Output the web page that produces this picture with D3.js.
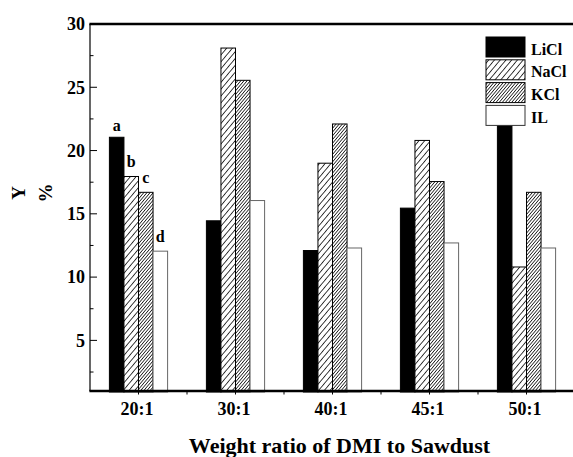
<!DOCTYPE html>
<html>
<head>
<meta charset="utf-8">
<script src="https://cdn.jsdelivr.net/npm/d3@7"></script>
<style>
  html, body { margin: 0; padding: 0; background: #fff; }
  svg { display: block; font-family: "Liberation Serif", "Times New Roman", serif; font-weight: bold; }
</style>
</head>
<body>
<div id="chart"></div>
<script>
// Grouped bar chart: yield Y (%) by weight ratio of DMI to sawdust, per salt

const width = 573;
const height = 457;
const margin = { top: 24, right: -2, bottom: 66, left: 90 };

// Data
const categories = ['20:1', '30:1', '40:1', '45:1', '50:1'];
const seriesNames = ['LiCl', 'NaCl', 'KCl', 'IL'];
const liclValues = [21.05, 14.45, 12.1, 15.45, 23.0];
const naclValues = [17.95, 28.1, 19.0, 20.8, 10.8];
const kclValues = [16.7, 25.55, 22.1, 17.55, 16.7];
const ilValues = [12.05, 16.05, 12.3, 12.7, 12.3];
const yTicks = [5, 10, 15, 20, 25, 30];
const yMinorTicks = [2.5, 7.5, 12.5, 17.5, 22.5, 27.5];
const firstGroupLetters = ['a', 'b', 'c', 'd'];

const seriesValues = [liclValues, naclValues, kclValues, ilValues];

const svg = d3.select('#chart')
    .append('svg')
    .attr('width', width)
    .attr('height', height);

// hatch patterns
const defs = svg.append('defs');
function hatch(id, gap) {
    const p = defs.append('pattern')
        .attr('id', id)
        .attr('patternUnits', 'userSpaceOnUse')
        .attr('width', gap)
        .attr('height', 10)
        .attr('patternTransform', 'rotate(40)');
    p.append('rect').attr('width', gap).attr('height', 10).attr('fill', '#fff');
    p.append('line')
        .attr('x1', gap / 2).attr('x2', gap / 2)
        .attr('y1', 0).attr('y2', 10)
        .attr('stroke', '#000')
        .attr('stroke-width', 0.8);
}
hatch('hatchNa', 4.4);
hatch('hatchK', 2.4);

const fills = { LiCl: '#000', NaCl: 'url(#hatchNa)', KCl: 'url(#hatchK)', IL: '#fff' };
const strokes = { LiCl: '#000', NaCl: '#000', KCl: '#000', IL: '#666' };

const plotRight = width - margin.right;
const plotBottom = height - margin.bottom;

const x = d3.scaleBand()
    .domain(categories)
    .range([margin.left, plotRight])
    .paddingInner(0.4)
    .paddingOuter(0.2);

const xSub = d3.scaleBand()
    .domain(seriesNames)
    .range([0, x.bandwidth()]);

const y = d3.scaleLinear()
    .domain([1, 30])
    .range([plotBottom, margin.top]);

// bars
const rows = [];
categories.forEach((c, i) => {
    seriesNames.forEach((s, j) => {
        rows.push({ cat: c, series: s, value: seriesValues[j][i] });
    });
});

svg.append('g')
    .selectAll('rect')
    .data(rows)
    .enter()
    .append('rect')
    .attr('x', d => x(d.cat) + xSub(d.series))
    .attr('y', d => y(d.value))
    .attr('width', xSub.bandwidth())
    .attr('height', d => plotBottom - y(d.value) + 1)
    .attr('fill', d => fills[d.series])
    .attr('stroke', d => strokes[d.series])
    .attr('stroke-width', 1);

// letters above the first group
svg.append('g')
    .selectAll('text')
    .data(firstGroupLetters)
    .enter()
    .append('text')
    .attr('x', (d, j) => x(categories[0]) + xSub(seriesNames[j]) + xSub.bandwidth() / 2)
    .attr('y', (d, j) => y(seriesValues[j][0]) - (j === 0 ? 6 : 9))
    .attr('text-anchor', 'middle')
    .attr('font-size', '16px')
    .text(d => d);

// axes frame
const frame = svg.append('g').attr('stroke', '#000').attr('fill', 'none');
frame.append('line')
    .attr('x1', margin.left).attr('x2', margin.left)
    .attr('y1', margin.top).attr('y2', plotBottom)
    .attr('stroke-width', 1.2);
frame.append('line')
    .attr('x1', margin.left - 0.6).attr('x2', plotRight)
    .attr('y1', margin.top).attr('y2', margin.top)
    .attr('stroke-width', 2.4);
frame.append('line')
    .attr('x1', margin.left - 0.6).attr('x2', plotRight)
    .attr('y1', plotBottom).attr('y2', plotBottom)
    .attr('stroke-width', 2.4);

// y ticks (inward)
const yAxis = svg.append('g');
yAxis.selectAll('line.major')
    .data(yTicks)
    .enter()
    .append('line')
    .attr('class', 'major')
    .attr('x1', margin.left).attr('x2', margin.left + 7)
    .attr('y1', d => y(d)).attr('y2', d => y(d))
    .attr('stroke', '#000').attr('stroke-width', 1);
yAxis.selectAll('line.minor')
    .data(yMinorTicks)
    .enter()
    .append('line')
    .attr('class', 'minor')
    .attr('x1', margin.left).attr('x2', margin.left + 3.5)
    .attr('y1', d => y(d)).attr('y2', d => y(d))
    .attr('stroke', '#000').attr('stroke-width', 1);
yAxis.selectAll('text')
    .data(yTicks)
    .enter()
    .append('text')
    .attr('x', margin.left - 5)
    .attr('y', d => y(d))
    .attr('dy', '0.35em')
    .attr('text-anchor', 'end')
    .attr('font-size', '18px')
    .text(d => d);

// x ticks (small, outward) at centres and between groups
const step = x.step();
const xTickPos = [];
categories.forEach(c => {
    const cx = x(c) + x.bandwidth() / 2;
    xTickPos.push(cx);
    xTickPos.push(cx + step / 2);
});
svg.append('g')
    .selectAll('line')
    .data(xTickPos)
    .enter()
    .append('line')
    .attr('x1', d => d).attr('x2', d => d)
    .attr('y1', plotBottom).attr('y2', plotBottom + 3.5)
    .attr('stroke', '#000').attr('stroke-width', 1);

svg.append('g')
    .selectAll('text')
    .data(categories)
    .enter()
    .append('text')
    .attr('x', d => x(d) + x.bandwidth() / 2 - 1.5)
    .attr('y', plotBottom + 24)
    .attr('text-anchor', 'middle')
    .attr('font-size', '18px')
    .text(d => d);

// axis titles
svg.append('text')
    .attr('x', (margin.left + plotRight) / 2 + 7)
    .attr('y', 453)
    .attr('text-anchor', 'middle')
    .attr('font-size', '22px')
    .text('Weight ratio of DMI to Sawdust');

svg.append('text')
    .attr('transform', 'translate(25,193) rotate(-90)')
    .attr('text-anchor', 'middle')
    .attr('font-size', '19px')
    .text('Y');
svg.append('text')
    .attr('transform', 'translate(52,193) rotate(-90)')
    .attr('text-anchor', 'middle')
    .attr('font-size', '19px')
    .text('%');

// legend
const legend = svg.append('g')
    .attr('transform', 'translate(486,37)');
const item = legend.selectAll('g')
    .data(seriesNames)
    .enter()
    .append('g')
    .attr('transform', (d, i) => `translate(0,${i * 22.8})`);
item.append('rect')
    .attr('width', 39)
    .attr('height', 20)
    .attr('fill', d => fills[d])
    .attr('stroke', d => d === 'IL' ? '#333' : '#000')
    .attr('stroke-width', 1);
item.append('text')
    .attr('x', 45)
    .attr('y', 12)
    .attr('dy', '0.35em')
    .attr('font-size', '16px')
    .text(d => d);
</script>
</body>
</html>
